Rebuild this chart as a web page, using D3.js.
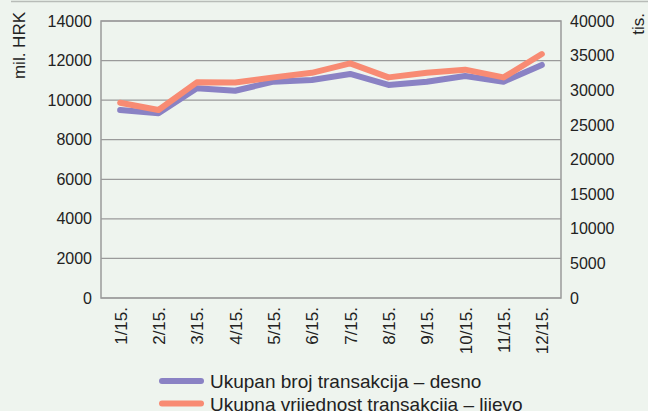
<!DOCTYPE html>
<html>
<head>
<meta charset="utf-8">
<script src="https://cdn.jsdelivr.net/npm/d3@7"></script>
<style>
  html, body { margin: 0; padding: 0; background: #eef4ee; }
  svg { display: block; font-family: "Liberation Sans", Arial, sans-serif; }
</style>
</head>
<body>
<div id="chart"></div>
<script>
var width = 648,
    height = 411,
    margin = {top: 21, right: 87, bottom: 113, left: 101};

var months = ['1/15.', '2/15.', '3/15.', '4/15.', '5/15.', '6/15.',
              '7/15.', '8/15.', '9/15.', '10/15.', '11/15.', '12/15.'];
// Ukupna vrijednost transakcija (mil. HRK, lijevo)
var valueSeries = [9870, 9500, 10900, 10890, 11150, 11380, 11860, 11150, 11380, 11540, 11150, 12330];
// Ukupan broj transakcija (tis., desno)
var countSeries = [27150, 26670, 30280, 29930, 31240, 31480, 32350, 30760, 31240, 32060, 31240, 33650];
var leftTicks = [0, 2000, 4000, 6000, 8000, 10000, 12000, 14000];
var rightTicks = [0, 5000, 10000, 15000, 20000, 25000, 30000, 35000, 40000];
var legendLabels = ['Ukupan broj transakcija \u2013 desno', 'Ukupna vrijednost transakcija \u2013 lijevo'];

var purple = '#8a82c4',
    orange = '#f88b73',
    gridColor = '#9a9a9a',
    textColor = '#222';

var svg = d3.select('#chart').append('svg')
    .attr('width', width)
    .attr('height', height);

// top rule
svg.append('line')
    .attr('x1', 11).attr('x2', width)
    .attr('y1', 1.5).attr('y2', 1.5)
    .style('stroke', '#b8bcb8')
    .style('stroke-width', 1.5);

var x = d3.scalePoint()
    .domain(months)
    .range([margin.left, width - margin.right])
    .padding(0.5);

var yLeft = d3.scaleLinear()
    .domain([0, 14000])
    .range([height - margin.bottom, margin.top]);

var yRight = d3.scaleLinear()
    .domain([0, 40000])
    .range([height - margin.bottom, margin.top]);

// grid
svg.append('g').selectAll('line').data(leftTicks)
    .enter().append('line')
    .attr('x1', margin.left).attr('x2', width - margin.right)
    .attr('y1', function(d) { return yLeft(d); })
    .attr('y2', function(d) { return yLeft(d); })
    .style('stroke', gridColor)
    .style('stroke-width', 1.2);

// frame
svg.append('rect')
    .attr('x', margin.left).attr('y', margin.top)
    .attr('width', width - margin.right - margin.left)
    .attr('height', height - margin.bottom - margin.top)
    .style('fill', 'none')
    .style('stroke', gridColor)
    .style('stroke-width', 1.5);

// left axis
var axLeft = svg.append('g')
    .attr('transform', 'translate(' + margin.left + ',0)')
    .call(d3.axisLeft(yLeft).tickValues(leftTicks).tickSize(0).tickPadding(9).tickFormat(d3.format('d')));
axLeft.select('.domain').remove();
axLeft.selectAll('text').style('font-size', '16px').style('fill', textColor).attr('font-family', null);

// right axis
var axRight = svg.append('g')
    .attr('transform', 'translate(' + (width - margin.right) + ',0)')
    .call(d3.axisRight(yRight).tickValues(rightTicks).tickSize(0).tickPadding(9).tickFormat(d3.format('d')));
axRight.select('.domain').remove();
axRight.selectAll('text').style('font-size', '16px').style('fill', textColor).attr('font-family', null);

// bottom axis
var axBottom = svg.append('g')
    .attr('transform', 'translate(0,' + (height - margin.bottom) + ')')
    .call(d3.axisBottom(x).tickSize(0).tickPadding(0));
axBottom.select('.domain').remove();
axBottom.selectAll('text')
    .style('font-size', '17px')
    .style('fill', textColor)
    .attr('font-family', null)
    .attr('text-anchor', 'end')
    .attr('dy', null)
    .attr('y', 0)
    .attr('transform', 'translate(6,9) rotate(-90)');

// axis titles
svg.append('text')
    .attr('transform', 'translate(25,12) rotate(-90)')
    .attr('text-anchor', 'end')
    .style('font-size', '17px')
    .style('fill', textColor)
    .text('mil. HRK');

svg.append('text')
    .attr('transform', 'translate(644,13) rotate(-90)')
    .attr('text-anchor', 'end')
    .style('font-size', '17px')
    .style('fill', textColor)
    .text('tis.');

// lines
var countLine = d3.line()
    .x(function(d, i) { return x(months[i]); })
    .y(function(d) { return yRight(d); });

var valueLine = d3.line()
    .x(function(d, i) { return x(months[i]); })
    .y(function(d) { return yLeft(d); });

svg.append('path')
    .datum(countSeries)
    .attr('d', countLine)
    .style('fill', 'none')
    .style('stroke', purple)
    .style('stroke-width', 6)
    .style('stroke-linejoin', 'round')
    .style('stroke-linecap', 'round');

svg.append('path')
    .datum(valueSeries)
    .attr('d', valueLine)
    .style('fill', 'none')
    .style('stroke', orange)
    .style('stroke-width', 6)
    .style('stroke-linejoin', 'round')
    .style('stroke-linecap', 'round');

// legend
var legend = svg.append('g').selectAll('g').data(legendLabels)
    .enter().append('g')
    .attr('transform', function(d, i) { return 'translate(162,' + (381 + i * 22.5) + ')'; });

legend.append('line')
    .attr('x1', 0).attr('x2', 39)
    .attr('y1', 0).attr('y2', 0)
    .style('stroke', function(d, i) { return i === 0 ? purple : orange; })
    .style('stroke-width', 6)
    .style('stroke-linecap', 'round');

legend.append('text')
    .attr('x', 48)
    .attr('y', 7)
    .style('font-size', '19px')
    .style('fill', textColor)
    .text(function(d) { return d; });
</script>
</body>
</html>
